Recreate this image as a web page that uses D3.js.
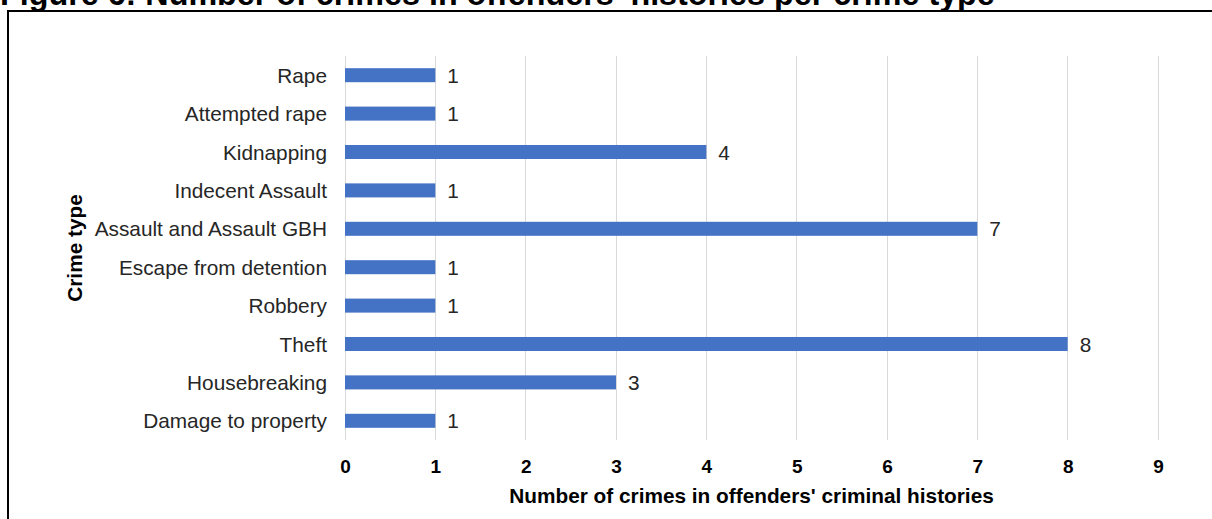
<!DOCTYPE html>
<html>
<head>
<meta charset="utf-8">
<script src="https://cdn.jsdelivr.net/npm/d3@7"></script>
<style>
  html, body { margin: 0; padding: 0; background: #fff; }
  svg { display: block; }
  text { font-family: "Liberation Sans", Arial, Helvetica, sans-serif; }
</style>
</head>
<body>
<svg id="chart" width="1212" height="519"></svg>
<script>
const titleText = "Figure 6: Number of crimes in offenders' histories per crime type";
const categories = ["Rape", "Attempted rape", "Kidnapping", "Indecent Assault", "Assault and Assault GBH",
  "Escape from detention", "Robbery", "Theft", "Housebreaking", "Damage to property"];
const values = [1, 1, 4, 1, 7, 1, 1, 8, 3, 1];
const xTicks = [0, 1, 2, 3, 4, 5, 6, 7, 8, 9];
const xAxisTitle = "Number of crimes in offenders' criminal histories";
const yAxisTitle = "Crime type";

const svg = d3.select("#chart");
const W = 1212, H = 519;
const plot = { left: 345, right: 1158, top: 56, bottom: 440 };

// Title (partially cut at top, as in the reference)
svg.append("text")
  .attr("x", 0).attr("y", 5)
  .attr("font-size", 32.3).attr("font-weight", "bold").attr("fill", "#000")
  .text(titleText);

// Frame
svg.append("path")
  .attr("d", `M8,${H + 5} L8,11 L${W + 5},11`)
  .attr("fill", "none").attr("stroke", "#000").attr("stroke-width", 2);

const x = d3.scaleLinear().domain([0, 9]).range([plot.left, plot.right]);
const y = d3.scaleBand().domain(categories).range([plot.top, plot.bottom])
  .paddingInner(0.635).paddingOuter(0.3175);

// Gridlines
svg.append("g").selectAll("line").data(xTicks).join("line")
  .attr("x1", d => x(d)).attr("x2", d => x(d))
  .attr("y1", plot.top).attr("y2", plot.bottom)
  .attr("stroke", "#d9d9d9").attr("stroke-width", 1)
  .attr("shape-rendering", "crispEdges");

// X axis tick labels
const xAxis = d3.axisBottom(x).tickValues(xTicks).tickSize(0).tickPadding(0).tickFormat(d3.format("d"));
const gx = svg.append("g").attr("transform", `translate(0,${plot.bottom})`).call(xAxis);
gx.select(".domain").remove();
gx.selectAll("text")
  .attr("y", 33).attr("dy", null)
  .attr("font-size", 19).attr("font-weight", "bold").attr("fill", "#000")
  .style("font-family", '"Liberation Sans", Arial, sans-serif');

// Y axis category labels
const yAxis = d3.axisLeft(y).tickSize(0).tickPadding(18);
const gy = svg.append("g").attr("transform", `translate(${plot.left},0)`).call(yAxis);
gy.select(".domain").remove();
gy.selectAll("text")
  .attr("dy", null).attr("y", 7.5)
  .attr("font-size", 20.8).attr("fill", "#262626")
  .style("font-family", '"Liberation Sans", Arial, sans-serif');

// Bars
svg.append("g").selectAll("rect").data(categories).join("rect")
  .attr("x", x(0))
  .attr("y", (d) => y(d))
  .attr("width", (d, i) => x(values[i]) - x(0))
  .attr("height", y.bandwidth())
  .attr("fill", "#4472C4");

// Value labels
svg.append("g").selectAll("text").data(categories).join("text")
  .attr("x", (d, i) => x(values[i]) + 12)
  .attr("y", d => y(d) + y.bandwidth() / 2 + 7.5)
  .attr("font-size", 20.8).attr("fill", "#262626")
  .text((d, i) => values[i]);

// X axis title
svg.append("text")
  .attr("x", (plot.left + plot.right) / 2).attr("y", 503)
  .attr("text-anchor", "middle")
  .attr("font-size", 20.8).attr("font-weight", "bold").attr("fill", "#000")
  .text(xAxisTitle);

// Y axis title
svg.append("text")
  .attr("transform", `translate(82,${(plot.top + plot.bottom) / 2}) rotate(-90)`)
  .attr("text-anchor", "middle")
  .attr("font-size", 20.8).attr("font-weight", "bold").attr("fill", "#000")
  .text(yAxisTitle);
</script>
</body>
</html>
